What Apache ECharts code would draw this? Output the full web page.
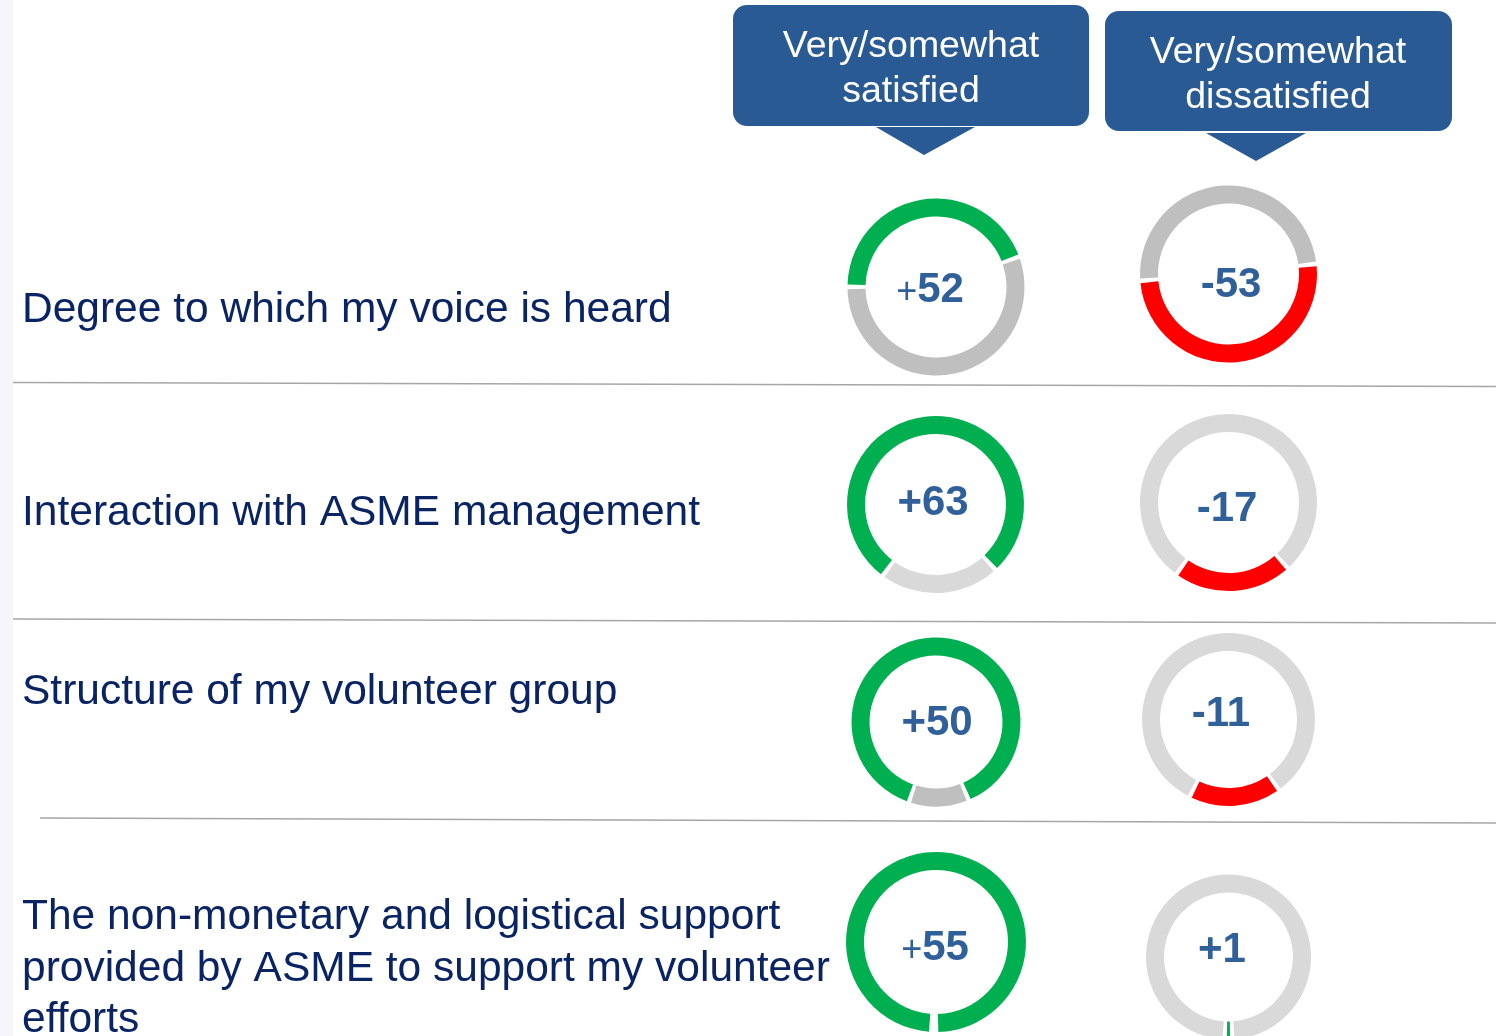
<!DOCTYPE html>
<html>
<head>
<meta charset="utf-8">
<script src="https://cdn.jsdelivr.net/npm/echarts@6/dist/echarts.min.js"></script>
<style>
  html, body { margin: 0; padding: 0; background: #fff; }
  #main { width: 1496px; height: 1036px; }
</style>
</head>
<body>
<div id="main"></div>
<script>
// row labels (one array of lines per row)
const rowLabels = [
    ['Degree to which my voice is heard'],
    ['Interaction with ASME management'],
    ['Structure of my volunteer group'],
    ['The non-monetary and logistical support', 'provided by ASME to support my volunteer', 'efforts']
];
const columnHeaders = [['Very/somewhat', 'satisfied'], ['Very/somewhat', 'dissatisfied']];

// net scores shown in the middle of each ring
const satNet = [52, 63, 50, 55];
const dissatNet = [-53, -17, -11, 1];

// share of the ring (in %) taken by the coloured arc
const satShare = [44.4, 78, 88.5, 100];
const dissatShare = [50.6, 21.7, 17.3, 1.5];

// layout
const satCenters = [[936, 287], [935.5, 504.5], [936, 722], [936, 942]];
const dissatCenters = [[1228.5, 274], [1228.5, 502.5], [1228.5, 719.5], [1228.5, 957]];
const satRadius = [88.5, 88.5, 84.5, 90];
const dissatRadius = [88.5, 88.5, 86.5, 82.5];
const satTilt = [10, 3, 2, 0];
const dissatTilt = [5.5, 3, 4.5, 0];
const satLabelShift = [[-6, 3.5], [-2.5, -1], [1, 1.5], [-1, 6.5]];
const dissatLabelShift = [[2.5, 11.5], [-1.5, 7], [-7.5, -5], [-6.5, -6.5]];
const satSignWeight = ['normal', 'bold', 'bold', 'normal'];
const dissatSignWeight = ['bold', 'bold', 'bold', 'bold'];
const satTrack = ['#bfbfbf', '#d9d9d9', '#bfbfbf', '#d9d9d9'];
const dissatTrack = ['#bfbfbf', '#d9d9d9', '#d9d9d9', '#d9d9d9'];
const rowLabelY = [310, 513.5, 692, 917.5];

const GREEN = '#00b050';
const RED = '#ff0000';
const NUM_COLOR = '#30609a';
const LABEL_COLOR = '#0a2463';
const BOX_COLOR = '#295a93';
const FONT = '"Liberation Sans", Arial, sans-serif';

function signText(v) {
    return v > 0 ? '+' : v < 0 ? '-' : '';
}

// bottomSeg is centred near 6 o'clock, topSeg fills the rest
function ring(center, r, tilt, bottomSeg, topSeg, net, shift, signWeight) {
    const span = bottomSeg.value / (bottomSeg.value + topSeg.value) * 360;
    return {
        type: 'pie',
        center: center,
        radius: [r - 18, r],
        startAngle: -90 + span / 2 + tilt,
        clockwise: true,
        padAngle: 3,
        silent: true,
        animation: false,
        labelLine: { show: false },
        data: [
            {
                value: bottomSeg.value,
                itemStyle: { color: bottomSeg.color },
                label: {
                    show: true,
                    position: 'center',
                    offset: shift,
                    formatter: '{s|' + signText(net) + '}{n|' + Math.abs(net) + '}',
                    rich: {
                        s: {
                            color: NUM_COLOR, fontFamily: FONT, fontSize: signWeight === 'bold' ? 42 : 36,
                            fontWeight: signWeight, padding: signWeight === 'bold' ? 0 : [6, 0, 0, 0]
                        },
                        n: { color: NUM_COLOR, fontFamily: FONT, fontSize: 42, fontWeight: 'bold' }
                    }
                }
            },
            {
                value: topSeg.value,
                itemStyle: { color: topSeg.color },
                label: { show: false }
            }
        ]
    };
}

const series = [];
for (let i = 0; i < 4; i++) {
    // satisfied: grey remainder sits at the bottom
    series.push(ring(satCenters[i], satRadius[i], satTilt[i],
        { value: 100 - satShare[i], color: satTrack[i] },
        { value: satShare[i], color: GREEN },
        satNet[i], satLabelShift[i], satSignWeight[i]));
    // dissatisfied: coloured arc sits at the bottom
    series.push(ring(dissatCenters[i], dissatRadius[i], dissatTilt[i],
        { value: dissatShare[i], color: dissatNet[i] < 0 ? RED : GREEN },
        { value: 100 - dissatShare[i], color: dissatTrack[i] },
        dissatNet[i], dissatLabelShift[i], dissatSignWeight[i]));
}

const graphics = [
    { type: 'rect', shape: { x: 0, y: 0, width: 13, height: 1036 }, style: { fill: '#f5f5fa' }, silent: true },
    // row separators
    { type: 'line', shape: { x1: 13, y1: 382.5, x2: 1496, y2: 386.5 }, style: { stroke: '#a6a6a6', lineWidth: 1.5 } },
    { type: 'line', shape: { x1: 13, y1: 619, x2: 1496, y2: 623 }, style: { stroke: '#a6a6a6', lineWidth: 1.5 } },
    { type: 'line', shape: { x1: 40, y1: 818, x2: 1496, y2: 823 }, style: { stroke: '#a6a6a6', lineWidth: 1.5 } },
    // column header callouts
    { type: 'rect', shape: { x: 733, y: 5, width: 356, height: 121, r: 14 }, style: { fill: BOX_COLOR } },
    { type: 'polygon', shape: { points: [[876, 127], [975, 127], [924, 155]] }, style: { fill: BOX_COLOR } },
    { type: 'rect', shape: { x: 1105, y: 11, width: 347, height: 120, r: 14 }, style: { fill: BOX_COLOR } },
    { type: 'polygon', shape: { points: [[1206, 133], [1306, 133], [1256, 161]] }, style: { fill: BOX_COLOR } }
];

const headerCenters = [[911, 69.5], [1278, 75.5]];
columnHeaders.forEach((lines, i) => {
    graphics.push({
        type: 'text',
        x: headerCenters[i][0],
        y: headerCenters[i][1],
        style: {
            text: lines.join('\n'),
            fill: '#fff',
            font: '37.5px ' + FONT,
            lineHeight: 45,
            align: 'center',
            verticalAlign: 'middle'
        }
    });
});

rowLabels.forEach((lines, i) => {
    lines.forEach((line, j) => {
        graphics.push({
            type: 'text',
            x: 22,
            y: rowLabelY[i] + j * 51.5,
            style: {
                text: line,
                fill: LABEL_COLOR,
                font: '42.5px ' + FONT,
                align: 'left',
                verticalAlign: 'middle'
            }
        });
    });
});

const chart = echarts.init(document.getElementById('main'));
chart.setOption({
    backgroundColor: '#ffffff',
    animation: false,
    series: series,
    graphic: graphics
});
</script>
</body>
</html>
